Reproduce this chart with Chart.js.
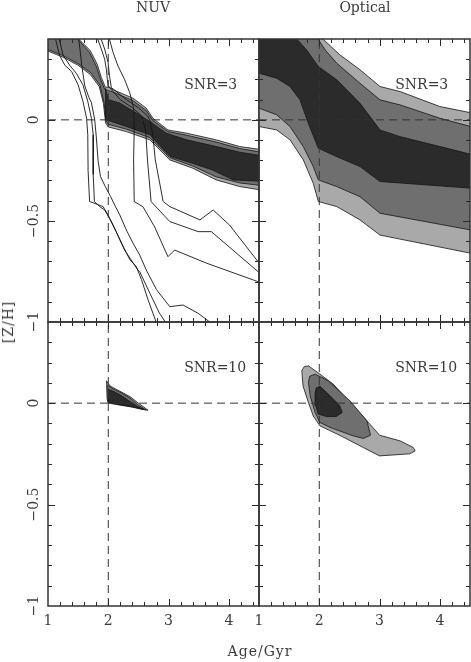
<!DOCTYPE html>
<html>
<head>
<meta charset="utf-8">
<title>Age / [Z/H] confidence contours</title>
<script src="https://cdn.jsdelivr.net/npm/chart.js@4.4.1/dist/chart.umd.min.js"></script>
<style>
  body { margin: 0; background: #fff; }
  #fig { position: relative; width: 471px; height: 662px; overflow: hidden; background: #fff;
         font-family: "DejaVu Serif", serif; color: #3a3a3a; }
  #fig canvas { position: absolute; left: 0; top: 0; }
  .lbl { position: absolute; font-size: 14px; line-height: 14px; white-space: nowrap; transform: translateX(-50%); }
  .rot { transform: translate(-50%, -50%) rotate(-90deg); }
</style>
</head>
<body>
<div id="fig">
  <canvas id="nuv3" width="471" height="662"></canvas>
  <canvas id="opt3" width="471" height="662"></canvas>
  <canvas id="nuv10" width="471" height="662"></canvas>
  <canvas id="opt10" width="471" height="662"></canvas>
  <div class="lbl" style="left:153px;top:0px">NUV</div>
  <div class="lbl" style="left:365px;top:0px">Optical</div>
  <div class="lbl" style="left:260px;top:644px;letter-spacing:1px">Age/Gyr</div>
  <div class="lbl rot" style="left:8px;top:322px;letter-spacing:1px">[Z/H]</div>
</div>
<script>
// axes
const ageMin = 1, ageMax = 4.5
const zhMin = -1, zhMax = 0.4
const ageMajor = [1, 2, 3, 4]
const ageTickLabels = ['1', '2', '3', '4']
const ageMinorStep = 0.2
const zhMajor = [0, -0.5, -1]
const zhTickLabels = ['0', '\u22120.5', '\u22121']
const zhMinorStep = 0.1

// input model (dashed lines)
const refAge = 2
const refZH = 0

// NUV, SNR=3 : contour bands [age, Z/H]
const nuv3Light = [[0.9,0.45],[1.49,0.45],[1.51,0.40],[1.70,0.343],[1.815,0.276],[1.885,0.21],[1.95,0.162],[2.02,0.162],
  [2.08,0.149],[2.41,0.107],[2.63,0.058],[2.74,0.008],[2.99,-0.05],[3.30,-0.066],[3.79,-0.099],[4.18,-0.132],[4.6,-0.15],
  [4.6,-0.35],[4.18,-0.33],[3.79,-0.297],[3.40,-0.239],[3.02,-0.198],[2.69,-0.099],[2.30,-0.058],[2.0,-0.035],
  [1.955,-0.015],[1.92,0.08],[1.85,0.165],[1.70,0.225],[1.5,0.27],[1.25,0.31],[1.0,0.34],[0.9,0.345]]
const nuv3Mid = [[0.9,0.45],[1.47,0.45],[1.49,0.40],[1.69,0.333],[1.80,0.266],[1.87,0.202],[1.94,0.152],[2.0,0.145],
  [2.08,0.137],[2.41,0.095],[2.63,0.046],[2.74,-0.003],[2.99,-0.058],[3.30,-0.076],[3.79,-0.11],[4.18,-0.142],[4.6,-0.163],
  [4.6,-0.327],[4.18,-0.312],[3.79,-0.282],[3.40,-0.228],[3.02,-0.187],[2.69,-0.088],[2.30,-0.046],[2.0,-0.022],
  [1.962,-0.005],[1.932,0.082],[1.862,0.172],[1.71,0.233],[1.5,0.278],[1.25,0.318],[1.0,0.348],[0.9,0.352]]
const nuv3Dark = [[1.955,0.155],[1.985,0.12],[2.0,0.10],[2.19,0.083],[2.47,0.033],[2.69,-0.008],[2.96,-0.066],[3.30,-0.099],
  [3.79,-0.132],[4.18,-0.16],[4.6,-0.18],[4.6,-0.305],[4.07,-0.297],[3.73,-0.248],[3.40,-0.215],[3.02,-0.18],[2.69,-0.074],
  [2.30,-0.033],[2.0,-0.003],[1.962,0.0]]

// NUV, SNR=3 : single contour lines
const nuvLineP1 = [[1.11,0.42],[1.19,0.32],[1.28,0.27],[1.39,0.24],[1.50,0.173],[1.58,0.091],[1.64,0.008],[1.66,-0.074],
  [1.665,-0.25],[1.69,-0.404],[1.80,-0.416],[1.913,-0.429],[1.995,-0.47],[2.08,-0.52],[2.22,-0.61],[2.36,-0.693],
  [2.465,-0.726],[2.55,-0.79],[2.66,-0.89],[2.80,-1.006],[2.82,-1.03]]
const nuvLineP2 = [[1.17,0.42],[1.25,0.32],[1.36,0.27],[1.47,0.23],[1.58,0.173],[1.66,0.091],[1.72,0.008],[1.75,-0.074],
  [1.75,-0.27],[1.77,-0.404],[1.857,-0.429],[1.94,-0.446],[2.02,-0.487],[2.13,-0.553],[2.27,-0.644],[2.38,-0.693],
  [2.49,-0.743],[2.52,-0.75],[2.69,-0.858],[2.85,-0.957],[2.96,-1.006],[3.0,-1.03]]
const nuvLineQ = [[1.50,0.42],[1.53,0.35],[1.56,0.27],[1.61,0.168],[1.68,0.11],[1.72,0.086],[1.775,0.0],[1.80,-0.08],
  [1.83,-0.2],[1.87,-0.28],[1.95,-0.33],[2.04,-0.38],[2.12,-0.43],[2.19,-0.47],[2.30,-0.545],[2.41,-0.61],[2.52,-0.668],
  [2.63,-0.743],[2.80,-0.84],[3.02,-0.924],[3.24,-0.916],[3.49,-0.957],[3.71,-1.006],[3.75,-1.03]]
const nuvLineR1 = [[2.0,0.42],[2.08,0.333],[2.16,0.267],[2.27,0.20],[2.355,0.135],[2.42,0.06],[2.43,-0.05],[2.42,-0.198],
  [2.43,-0.404],[2.575,-0.43],[2.77,-0.53],[2.99,-0.677],[3.10,-0.644],[3.63,-0.709],[4.48,-0.80],[4.6,-0.815]]
const nuvLineR2 = [[1.80,0.42],[1.885,0.35],[1.94,0.30],[1.968,0.25],[1.996,0.168],[2.2,0.10],[2.4,0.06],[2.55,0.02],
  [2.62,-0.05],[2.65,-0.198],[2.71,-0.404],[3.02,-0.503],[3.49,-0.553],[3.71,-0.553],[4.48,-0.75],[4.6,-0.78]]
const nuvLineR3 = [[1.857,0.42],[1.94,0.35],[1.996,0.284],[2.02,0.218],[2.05,0.16],[2.3,0.10],[2.5,0.06],[2.65,0.02],
  [2.69,0.0],[2.74,-0.079],[2.78,-0.198],[2.91,-0.404],[3.02,-0.429],[3.52,-0.495],[3.74,-0.446],[4.01,-0.52],
  [4.48,-0.70],[4.6,-0.73]]

// Optical, SNR=3
const opt3Light = [[0.9,0.45],[2.03,0.45],[2.06,0.40],[2.34,0.322],[2.675,0.248],[3.007,0.165],[3.34,0.14],[4.0,0.066],
  [4.6,0.03],[4.6,-0.67],[4.516,-0.66],[3.007,-0.57],[2.675,-0.495],[2.29,-0.429],[1.984,-0.404],[1.9,-0.314],
  [1.735,-0.198],[1.514,-0.099],[1.293,-0.05],[1.0,-0.033],[0.9,-0.03]]
const opt3Mid = [[0.9,0.45],[1.95,0.45],[1.98,0.40],[2.1,0.345],[2.29,0.28],[2.675,0.181],[3.007,0.099],[3.34,0.074],
  [4.0,0.008],[4.6,-0.04],[4.6,-0.55],[4.516,-0.545],[3.007,-0.462],[2.675,-0.38],[2.29,-0.33],[1.984,-0.297],
  [1.9,-0.231],[1.735,-0.132],[1.514,-0.033],[1.293,0.025],[1.0,0.058],[0.9,0.062]]
const opt3Dark = [[0.9,0.45],[1.6,0.45],[1.625,0.40],[1.79,0.346],[1.984,0.264],[2.29,0.198],[2.675,0.082],[3.007,-0.05],
  [3.34,-0.083],[4.0,-0.132],[4.6,-0.177],[4.6,-0.34],[4.516,-0.338],[3.007,-0.305],[2.675,-0.231],[2.29,-0.182],
  [1.984,-0.14],[1.818,-0.017],[1.68,0.099],[1.514,0.165],[1.293,0.206],[1.0,0.231],[0.9,0.235]]

// NUV, SNR=10
const nuv10Light = [[1.97,0.11],[2.03,0.085],[2.12,0.07],[2.25,0.05],[2.37,0.03],[2.50,0.0],[2.66,-0.035],[2.55,-0.03],
  [2.40,-0.02],[2.2,-0.01],[2.0,0.0],[1.98,0.02]]
const nuv10Mid = [[1.99,0.088],[2.08,0.07],[2.22,0.05],[2.36,0.025],[2.50,-0.01],[2.62,-0.033],[2.40,-0.018],[2.2,-0.008],
  [2.0,0.005]]
const nuv10Dark = [[2.0,0.068],[2.10,0.056],[2.2,0.04],[2.35,0.01],[2.48,-0.015],[2.58,-0.03],[2.35,-0.013],[2.15,-0.005],
  [2.0,0.006]]

// Optical, SNR=10
const opt10Light = [[1.71,0.16],[1.75,0.18],[1.82,0.184],[2.01,0.143],[2.23,0.094],[2.56,-0.013],[2.84,-0.104],[3.0,-0.158],
  [3.34,-0.186],[3.56,-0.219],[3.59,-0.235],[3.50,-0.25],[3.0,-0.26],[2.73,-0.219],[2.35,-0.16],[2.01,-0.112],
  [1.90,-0.063],[1.82,0.003],[1.73,0.085]]
const opt10Mid = [[1.82,0.102],[1.84,0.132],[1.93,0.143],[2.15,0.11],[2.51,0.011],[2.79,-0.087],[2.85,-0.158],[2.73,-0.174],
  [2.56,-0.161],[2.18,-0.12],[2.01,-0.095],[1.93,-0.046],[1.85,0.036]]
const opt10Dark = [[1.93,0.05],[1.95,0.075],[2.01,0.083],[2.18,0.036],[2.34,-0.013],[2.38,-0.046],[2.28,-0.066],[2.12,-0.066],
  [1.98,-0.054],[1.945,-0.013]]

const INK = '#2a2a2a'
const TEXT = '#3a3a3a'
const EDGE = '#141414'
const LIGHT = '#a9a9a9'
const MID = '#6f6f6f'
const DARK = '#2b2b2b'
const FONT = '14px "DejaVu Serif"'

const xy = pts => pts.map(([x, y]) => ({ x, y }))

const band = (pts, color) => ({
    data: xy([...pts, pts[0]]),
    showLine: true,
    fill: 'shape',
    backgroundColor: color,
    borderColor: EDGE,
    borderWidth: 0.8,
    pointRadius: 0
})

const curve = pts => ({
    data: xy(pts),
    showLine: true,
    fill: false,
    borderColor: EDGE,
    borderWidth: 0.9,
    pointRadius: 0
})

const refLines = () => [
    { data: [{ x: refAge, y: zhMin }, { x: refAge, y: zhMax }] },
    { data: [{ x: ageMin, y: refZH }, { x: ageMax, y: refZH }] }
].map(d => ({ ...d, showLine: true, fill: false, borderColor: '#333', borderWidth: 1, borderDash: [8, 5], pointRadius: 0 }))

// frame, inward ticks, tick labels, SNR note
const frameTicks = {
    id: 'frameTicks',
    afterDraw(chart, args, o) {
        const { ctx, chartArea: a } = chart
        const xs = chart.scales.x, ys = chart.scales.y
        ctx.save()
        ctx.strokeStyle = INK
        ctx.lineWidth = 1
        ctx.beginPath()
        const nx = Math.floor((ageMax - ageMin) / ageMinorStep + 1e-6)
        for (let i = 1; i <= nx; i++) {
            const v = ageMin + i * ageMinorStep
            const len = ageMajor.some(m => Math.abs(m - v) < 1e-6) ? 7 : 4
            const px = Math.round(xs.getPixelForValue(v)) + 0.5
            ctx.moveTo(px, a.bottom); ctx.lineTo(px, a.bottom - len)
            ctx.moveTo(px, a.top); ctx.lineTo(px, a.top + len)
        }
        const ny = Math.floor((zhMax - zhMin) / zhMinorStep + 1e-6)
        for (let i = 1; i < ny; i++) {
            const v = zhMin + i * zhMinorStep
            const len = zhMajor.some(m => Math.abs(m - v) < 1e-6) ? 7 : 4
            const py = Math.round(ys.getPixelForValue(v)) + 0.5
            ctx.moveTo(a.left, py); ctx.lineTo(a.left + len, py)
            ctx.moveTo(a.right, py); ctx.lineTo(a.right - len, py)
        }
        ctx.stroke()
        ctx.lineWidth = 1.5
        ctx.strokeStyle = '#333'
        ctx.strokeRect(a.left, a.top, a.right - a.left, a.bottom - a.top)

        ctx.fillStyle = TEXT
        ctx.font = FONT
        if (o.xLabels) {
            ctx.textAlign = 'center'
            ctx.textBaseline = 'alphabetic'
            ageMajor.forEach((v, i) => ctx.fillText(ageTickLabels[i], xs.getPixelForValue(v), a.bottom + 19))
        }
        if (o.yLabels) {
            zhMajor.forEach((v, i) => {
                ctx.save()
                ctx.translate(38, ys.getPixelForValue(v))
                ctx.rotate(-Math.PI / 2)
                ctx.textAlign = 'center'
                ctx.textBaseline = 'alphabetic'
                ctx.fillText(zhTickLabels[i], 0, 0)
                ctx.restore()
            })
        }
        if (o.note) {
            ctx.textAlign = 'left'
            ctx.textBaseline = 'middle'
            ctx.fillText(o.note, xs.getPixelForValue(o.noteAt[0]), ys.getPixelForValue(o.noteAt[1]))
        }
        ctx.restore()
    }
}

const panel = (id, pad, datasets, frame) => {
    // first in list is drawn first (bottom)
    datasets.forEach((d, i) => { d.order = datasets.length - i })
    return new Chart(document.getElementById(id), {
        type: 'scatter',
        data: { datasets },
        options: {
            responsive: false,
            animation: false,
            devicePixelRatio: 1,
            events: [],
            layout: { padding: pad },
            elements: { line: { tension: 0 } },
            plugins: {
                legend: { display: false },
                tooltip: { enabled: false },
                frameTicks: frame
            },
            scales: {
                x: { type: 'linear', min: ageMin, max: ageMax, display: false },
                y: { type: 'linear', min: zhMin, max: zhMax, display: false }
            }
        },
        plugins: [frameTicks]
    })
}

panel('nuv3', { left: 48, top: 39, right: 212, bottom: 340 }, [
    band(nuv3Light, LIGHT), band(nuv3Mid, MID), band(nuv3Dark, DARK),
    curve(nuvLineP1), curve(nuvLineP2), curve(nuvLineQ), curve(nuvLineR1), curve(nuvLineR2), curve(nuvLineR3),
    ...refLines()
], { yLabels: true, note: 'SNR=3', noteAt: [3.26, 0.17] })

panel('opt3', { left: 259, top: 39, right: 1, bottom: 340 }, [
    band(opt3Light, LIGHT), band(opt3Mid, MID), band(opt3Dark, DARK),
    ...refLines()
], { note: 'SNR=3', noteAt: [3.26, 0.17] })

panel('nuv10', { left: 48, top: 322, right: 212, bottom: 56 }, [
    band(nuv10Light, LIGHT), band(nuv10Mid, MID), band(nuv10Dark, DARK),
    ...refLines()
], { xLabels: true, yLabels: true, note: 'SNR=10', noteAt: [3.26, 0.17] })

panel('opt10', { left: 259, top: 322, right: 1, bottom: 56 }, [
    band(opt10Light, LIGHT), band(opt10Mid, MID), band(opt10Dark, DARK),
    ...refLines()
], { xLabels: true, note: 'SNR=10', noteAt: [3.26, 0.17] })
</script>
</body>
</html>
